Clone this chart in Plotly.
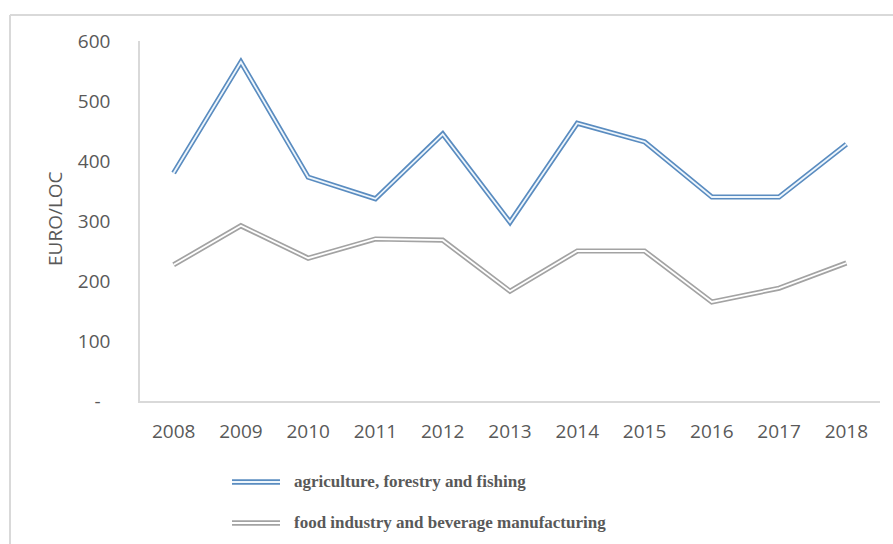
import plotly.graph_objects as go

years = ["2008", "2009", "2010", "2011", "2012", "2013", "2014", "2015", "2016", "2017", "2018"]
agriculture = [380, 565, 373, 337, 445, 298, 463, 432, 340, 340, 428]
food_industry = [227, 292, 238, 270, 268, 183, 250, 250, 165, 188, 230]

series_names = ["agriculture, forestry and fishing", "food industry and beverage manufacturing"]
series_values = [agriculture, food_industry]
series_colors = ["#5A8CC0", "#A3A3A3"]
gap_colors = ["#EEF6FC", "#FFFFFF"]

y_tick_vals = [0, 100, 200, 300, 400, 500, 600]
y_tick_text = ["-\u00a0\u00a0", "100", "200", "300", "400", "500", "600"]

W, H = 893, 544
L, R, T, B = 140, 13, 41, 143
PW, PH = W - L - R, H - T - B


def px_x(x):
    return (x - L) / PW


def px_y(y):
    return (H - B - y) / PH


fig = go.Figure()

# Double ("compound") lines: a wide coloured stroke with a thin light stroke on top
for name, vals, col, gap in zip(series_names, series_values, series_colors, gap_colors):
    fig.add_trace(go.Scatter(x=years, y=vals, mode="lines", name=name,
                             line=dict(color=col, width=5.2), showlegend=False,
                             hoverinfo="x+y"))
    fig.add_trace(go.Scatter(x=years, y=vals, mode="lines", name=name,
                             line=dict(color=gap, width=1.8), showlegend=False,
                             hoverinfo="skip"))

shapes = []
# chart-area border (left and top edges)
border = dict(color="#D9D9D9", width=2)
shapes.append(dict(type="line", xref="paper", yref="paper",
                   x0=px_x(10), x1=px_x(10), y0=px_y(15), y1=px_y(H + 5), line=border))
shapes.append(dict(type="line", xref="paper", yref="paper",
                   x0=px_x(10), x1=px_x(W + 5), y0=px_y(15), y1=px_y(15), line=border))

annotations = []
# legend below the plot, drawn with double-line samples
legend_rows = [482, 523]
for name, col, gap, ypx in zip(series_names, series_colors, gap_colors, legend_rows):
    shapes.append(dict(type="line", xref="paper", yref="paper",
                       x0=px_x(232), x1=px_x(280), y0=px_y(ypx), y1=px_y(ypx),
                       line=dict(color=col, width=5.5)))
    shapes.append(dict(type="line", xref="paper", yref="paper",
                       x0=px_x(232), x1=px_x(280), y0=px_y(ypx), y1=px_y(ypx),
                       line=dict(color=gap, width=1.8)))
    annotations.append(dict(text="<b>" + name + "</b>", xref="paper", yref="paper",
                            x=px_x(292), y=px_y(ypx - 1), xanchor="left", yanchor="middle",
                            showarrow=False,
                            font=dict(family="Liberation Serif", size=17, color="#595959")))

annotations.append(dict(text="EURO/LOC", xref="paper", yref="paper",
                        x=px_x(55), y=px_y(219), textangle=-90,
                        xanchor="center", yanchor="middle", showarrow=False,
                        font=dict(family="Open Sans", size=19, color="#595959")))

fig.update_layout(
    width=W, height=H,
    margin=dict(l=L, r=R, t=T, b=B, pad=0),
    paper_bgcolor="white", plot_bgcolor="white",
    shapes=shapes, annotations=annotations,
    showlegend=False,
    font=dict(family="Open Sans", size=19, color="#595959"),
)
fig.update_xaxes(type="category", range=[-0.5, len(years) - 0.5],
                 showgrid=False, zeroline=False,
                 showline=True, linecolor="#D9D9D9", linewidth=1.5,
                 ticks="", ticklabelstandoff=12,
                 tickfont=dict(family="Open Sans", size=19, color="#595959"))
fig.update_yaxes(range=[0, 600], tickvals=y_tick_vals, ticktext=y_tick_text,
                 showgrid=False, zeroline=False,
                 showline=True, linecolor="#D9D9D9", linewidth=1.5,
                 ticks="", ticklabelstandoff=24,
                 tickfont=dict(family="Open Sans", size=19, color="#595959"))

fig.write_html("out.html")
